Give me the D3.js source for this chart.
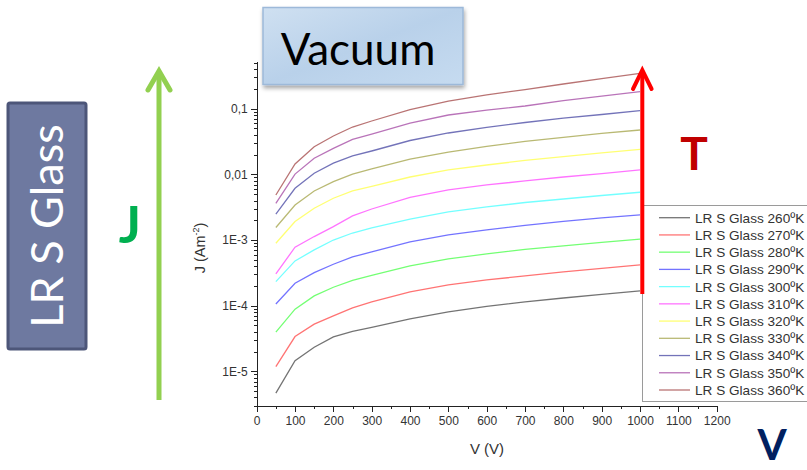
<!DOCTYPE html>
<html>
<head>
<meta charset="utf-8">
<script src="https://cdn.jsdelivr.net/npm/d3@7/dist/d3.min.js"></script>
<style>
  body { margin: 0; background: #fff; }
  svg { display: block; }
  .axis text { font-family: "Liberation Sans", Arial, sans-serif; font-size: 12px; fill: #333; }
  .axis path, .axis line { stroke: #222; shape-rendering: crispEdges; }
</style>
</head>
<body>
<div id="chart"></div>
<script>

/* data: current density J (A/m2) vs voltage V */
var voltage = [50, 100, 150, 200, 250, 300, 400, 500, 600, 700, 800, 900, 1000];
var temps = [260, 270, 280, 290, 300, 310, 320, 330, 340, 350, 360];

var j260 = [4.66e-6, 1.45e-5, 2.33e-5, 3.35e-5, 4.06e-5, 4.68e-5, 6.3e-5, 8.05e-5, 9.76e-5, 1.14e-4, 1.31e-4, 1.49e-4, 1.68e-4];
var j270 = [1.18e-5, 3.39e-5, 5.23e-5, 7.0e-5, 9.27e-5, 1.14e-4, 1.62e-4, 2.07e-4, 2.47e-4, 2.84e-4, 3.27e-4, 3.70e-4, 4.18e-4];
var j280 = [3.95e-5, 8.85e-5, 1.41e-4, 1.91e-4, 2.43e-4, 2.89e-4, 4.04e-4, 5.15e-4, 6.14e-4, 7.19e-4, 8.13e-4, 9.19e-4, 1.03e-3];
var j290 = [1.06e-4, 2.20e-4, 3.19e-4, 4.28e-4, 5.53e-4, 6.59e-4, 9.35e-4, 1.20e-3, 1.43e-3, 1.67e-3, 1.92e-3, 2.17e-3, 2.41e-3];
var j300 = [2.33e-4, 4.81e-4, 7.07e-4, 1.00e-3, 1.28e-3, 1.53e-3, 2.09e-3, 2.68e-3, 3.19e-3, 3.73e-3, 4.22e-3, 4.77e-3, 5.34e-3];
var j310 = [3.05e-4, 7.77e-4, 1.13e-3, 1.60e-3, 2.33e-3, 2.97e-3, 4.45e-3, 5.79e-3, 6.90e-3, 7.94e-3, 9.12e-3, 1.03e-2, 1.17e-2];
var j320 = [8.93e-4, 1.91e-3, 3.05e-3, 4.33e-3, 5.59e-3, 6.55e-3, 9.12e-3, 1.17e-2, 1.39e-2, 1.63e-2, 1.87e-2, 2.12e-2, 2.41e-2];
var j330 = [1.55e-3, 3.42e-3, 5.59e-3, 7.74e-3, 1.01e-2, 1.21e-2, 1.71e-2, 2.19e-2, 2.66e-2, 3.17e-2, 3.65e-2, 4.20e-2, 4.74e-2];
var j340 = [2.49e-3, 6.14e-3, 1.04e-2, 1.48e-2, 1.91e-2, 2.27e-2, 3.28e-2, 4.27e-2, 5.18e-2, 6.17e-2, 7.21e-2, 8.16e-2, 9.32e-2];
var j350 = [3.63e-3, 1.01e-2, 1.76e-2, 2.49e-2, 3.40e-2, 4.12e-2, 6.05e-2, 8.02e-2, 9.55e-2, 0.110, 0.133, 0.156, 0.182];
var j360 = [4.85e-3, 1.44e-2, 2.64e-2, 3.84e-2, 5.26e-2, 6.50e-2, 9.72e-2, 0.131, 0.162, 0.196, 0.238, 0.288, 0.346];

var xTicks = [0, 100, 200, 300, 400, 500, 600, 700, 800, 900, 1000, 1100, 1200];
var yTicks = [1e-5, 1e-4, 1e-3, 1e-2, 1e-1];
var yTickLabels = ['1E-5', '1E-4', '1E-3', '0,01', '0,1'];

var colors = ['#000000', '#ff0000', '#00ff00', '#0000ff', '#00ffff', '#ff00ff',
              '#ffff00', '#808000', '#000080', '#800080', '#800000'];

var series = [j260, j270, j280, j290, j300, j310, j320, j330, j340, j350, j360].map(function(vals, i) {
    return {
        name: 'LR S Glass ' + temps[i] + 'ºK',
        color: colors[i],
        values: vals.map(function(v, k) { return { v: voltage[k], j: v }; })
    };
});

var width = 807,
    height = 470;

var svg = d3.select('#chart')
    .append('svg')
    .attr('width', width)
    .attr('height', height);

var defs = svg.append('defs');

var grad = defs.append('linearGradient')
    .attr('id', 'vacGrad')
    .attr('x1', '0%').attr('y1', '0%')
    .attr('x2', '100%').attr('y2', '100%');
grad.append('stop').attr('offset', '0%').attr('stop-color', '#cfe0f1');
grad.append('stop').attr('offset', '50%').attr('stop-color', '#b9d1ea');
grad.append('stop').attr('offset', '100%').attr('stop-color', '#c6dbf0');

var shadow = defs.append('filter')
    .attr('id', 'shadow')
    .attr('x', '-10%').attr('y', '-10%')
    .attr('width', '130%').attr('height', '140%');
shadow.append('feDropShadow')
    .attr('dx', 1).attr('dy', 3)
    .attr('stdDeviation', 2)
    .attr('flood-color', '#000')
    .attr('flood-opacity', 0.35);

/* scales */
var x = d3.scaleLinear().domain([0, 1200]).range([256.7, 716.7]);
var y = d3.scaleLog().domain([3e-6, 0.52]).range([405.7, 61.7]);

/* minor ticks on the log axis */
var yMinor = [];
[-6, -5, -4, -3, -2, -1].forEach(function(e) {
    for (var m = 2; m <= 9; m++) {
        var v = m * Math.pow(10, e);
        if (v >= 3e-6 && v <= 0.52) yMinor.push(v);
    }
});

var xMinor = d3.range(50, 1200, 100);

/* axes */
svg.append('g')
    .attr('class', 'axis')
    .attr('transform', 'translate(' + x(0) + ',0)')
    .call(d3.axisLeft(y).tickValues(yMinor).tickSize(3).tickFormat(''))
    .select('.domain').remove();

svg.append('g')
    .attr('class', 'axis')
    .attr('transform', 'translate(' + x(0) + ',0)')
    .call(d3.axisLeft(y)
        .tickValues(yTicks)
        .tickSize(6)
        .tickPadding(3)
        .tickSizeOuter(0)
        .tickFormat(function(d, i) { return yTickLabels[i]; }));

svg.append('g')
    .attr('class', 'axis')
    .attr('transform', 'translate(0,' + y(3e-6) + ')')
    .call(d3.axisBottom(x).tickValues(xMinor).tickSize(3).tickFormat(''))
    .select('.domain').remove();

svg.append('g')
    .attr('class', 'axis')
    .attr('transform', 'translate(0,' + y(3e-6) + ')')
    .call(d3.axisBottom(x)
        .tickValues(xTicks)
        .tickSize(6)
        .tickPadding(5)
        .tickSizeOuter(0)
        .tickFormat(d3.format('d')));

/* axis titles */
svg.append('text')
    .attr('x', 487)
    .attr('y', 454)
    .attr('text-anchor', 'middle')
    .style('font-family', '"Liberation Sans", Arial, sans-serif')
    .style('font-size', '15px')
    .style('fill', '#333')
    .text('V (V)');

var yTitle = svg.append('text')
    .attr('transform', 'translate(205,248) rotate(-90)')
    .attr('text-anchor', 'middle')
    .style('font-family', '"Liberation Sans", Arial, sans-serif')
    .style('font-size', '14.5px')
    .style('fill', '#333');
yTitle.append('tspan').text('J (Am');
yTitle.append('tspan').attr('dy', -6).style('font-size', '9px').text('-2');
yTitle.append('tspan').attr('dy', 6).text(')');

/* curves */
var line = d3.line()
    .x(function(d) { return x(d.v); })
    .y(function(d) { return y(d.j); });

svg.append('g')
    .selectAll('path')
    .data(series)
    .enter().append('path')
    .attr('d', function(d) { return line(d.values); })
    .attr('fill', 'none')
    .attr('stroke', function(d) { return d.color; })
    .attr('stroke-opacity', 0.55)
    .attr('stroke-width', 1.3);

/* legend */
var legend = svg.append('g');

legend.append('rect')
    .attr('x', 642.5)
    .attr('y', 205.5)
    .attr('width', 200)
    .attr('height', 196)
    .attr('fill', '#fff')
    .attr('stroke', '#9a9a9a');

var items = legend.selectAll('.item')
    .data(series)
    .enter().append('g')
    .attr('class', 'item')
    .attr('transform', function(d, i) { return 'translate(0,' + (217.7 + i * 17.23) + ')'; });

items.append('line')
    .attr('x1', 659).attr('x2', 690)
    .attr('stroke', function(d) { return d.color; })
    .attr('stroke-opacity', 0.55)
    .attr('stroke-width', 1.3);

items.append('text')
    .attr('x', 695)
    .attr('dy', '0.36em')
    .style('font-family', '"Liberation Sans", Arial, sans-serif')
    .style('font-size', '13.6px')
    .style('fill', '#333')
    .text(function(d) { return d.name; });

/* red temperature arrow */
svg.append('line')
    .attr('x1', 642.3).attr('x2', 642.3)
    .attr('y1', 71).attr('y2', 294)
    .attr('stroke', '#ff0000')
    .attr('stroke-width', 4);

svg.append('path')
    .attr('d', 'M633,89 L642.3,70 L651.6,89')
    .attr('fill', 'none')
    .attr('stroke', '#ff0000')
    .attr('stroke-width', 4)
    .attr('stroke-linecap', 'round')
    .attr('stroke-linejoin', 'miter');

svg.append('text')
    .attr('x', 694)
    .attr('y', 170)
    .attr('text-anchor', 'middle')
    .style('font-family', 'Lato, sans-serif')
    .style('font-weight', 'bold')
    .style('font-size', '46px')
    .style('fill', '#c00000')
    .text('T');

/* green J arrow */
svg.append('line')
    .attr('x1', 159).attr('x2', 159)
    .attr('y1', 72).attr('y2', 400)
    .attr('stroke', '#92d050')
    .attr('stroke-width', 5);

svg.append('path')
    .attr('d', 'M148,90 L159,71 L170,90')
    .attr('fill', 'none')
    .attr('stroke', '#92d050')
    .attr('stroke-width', 5)
    .attr('stroke-linecap', 'round');

svg.append('text')
    .attr('x', 130)
    .attr('y', 243)
    .attr('text-anchor', 'middle')
    .style('font-family', 'Lato, sans-serif')
    .style('font-weight', 'bold')
    .style('font-size', '52px')
    .style('fill', '#00b050')
    .text('J');

/* V letter */
svg.append('text')
    .attr('x', 772)
    .attr('y', 460)
    .attr('text-anchor', 'middle')
    .style('font-family', 'Lato, sans-serif')
    .style('font-weight', 'bold')
    .style('font-size', '42px')
    .style('fill', '#002060')
    .text('V');

/* LR S Glass box */
svg.append('rect')
    .attr('x', 8)
    .attr('y', 103)
    .attr('width', 78)
    .attr('height', 246)
    .attr('rx', 2)
    .attr('fill', '#6e79a0')
    .attr('stroke', '#4d5679')
    .attr('stroke-width', 3);

svg.append('text')
    .attr('transform', 'translate(63,226) rotate(-90)')
    .attr('text-anchor', 'middle')
    .style('font-family', 'Lato, sans-serif')
    .style('font-size', '45px')
    .style('fill', '#fff')
    .text('LR S Glass');

/* Vacuum box */
svg.append('rect')
    .attr('x', 263)
    .attr('y', 7.5)
    .attr('width', 200)
    .attr('height', 77)
    .attr('fill', 'url(#vacGrad)')
    .attr('stroke', '#9db9d9')
    .attr('stroke-width', 1.5)
    .attr('filter', 'url(#shadow)');

svg.append('text')
    .attr('x', 358)
    .attr('y', 65)
    .attr('text-anchor', 'middle')
    .style('font-family', 'Lato, sans-serif')
    .style('font-size', '44px')
    .style('fill', '#000')
    .text('Vacuum');

</script>
</body>
</html>
